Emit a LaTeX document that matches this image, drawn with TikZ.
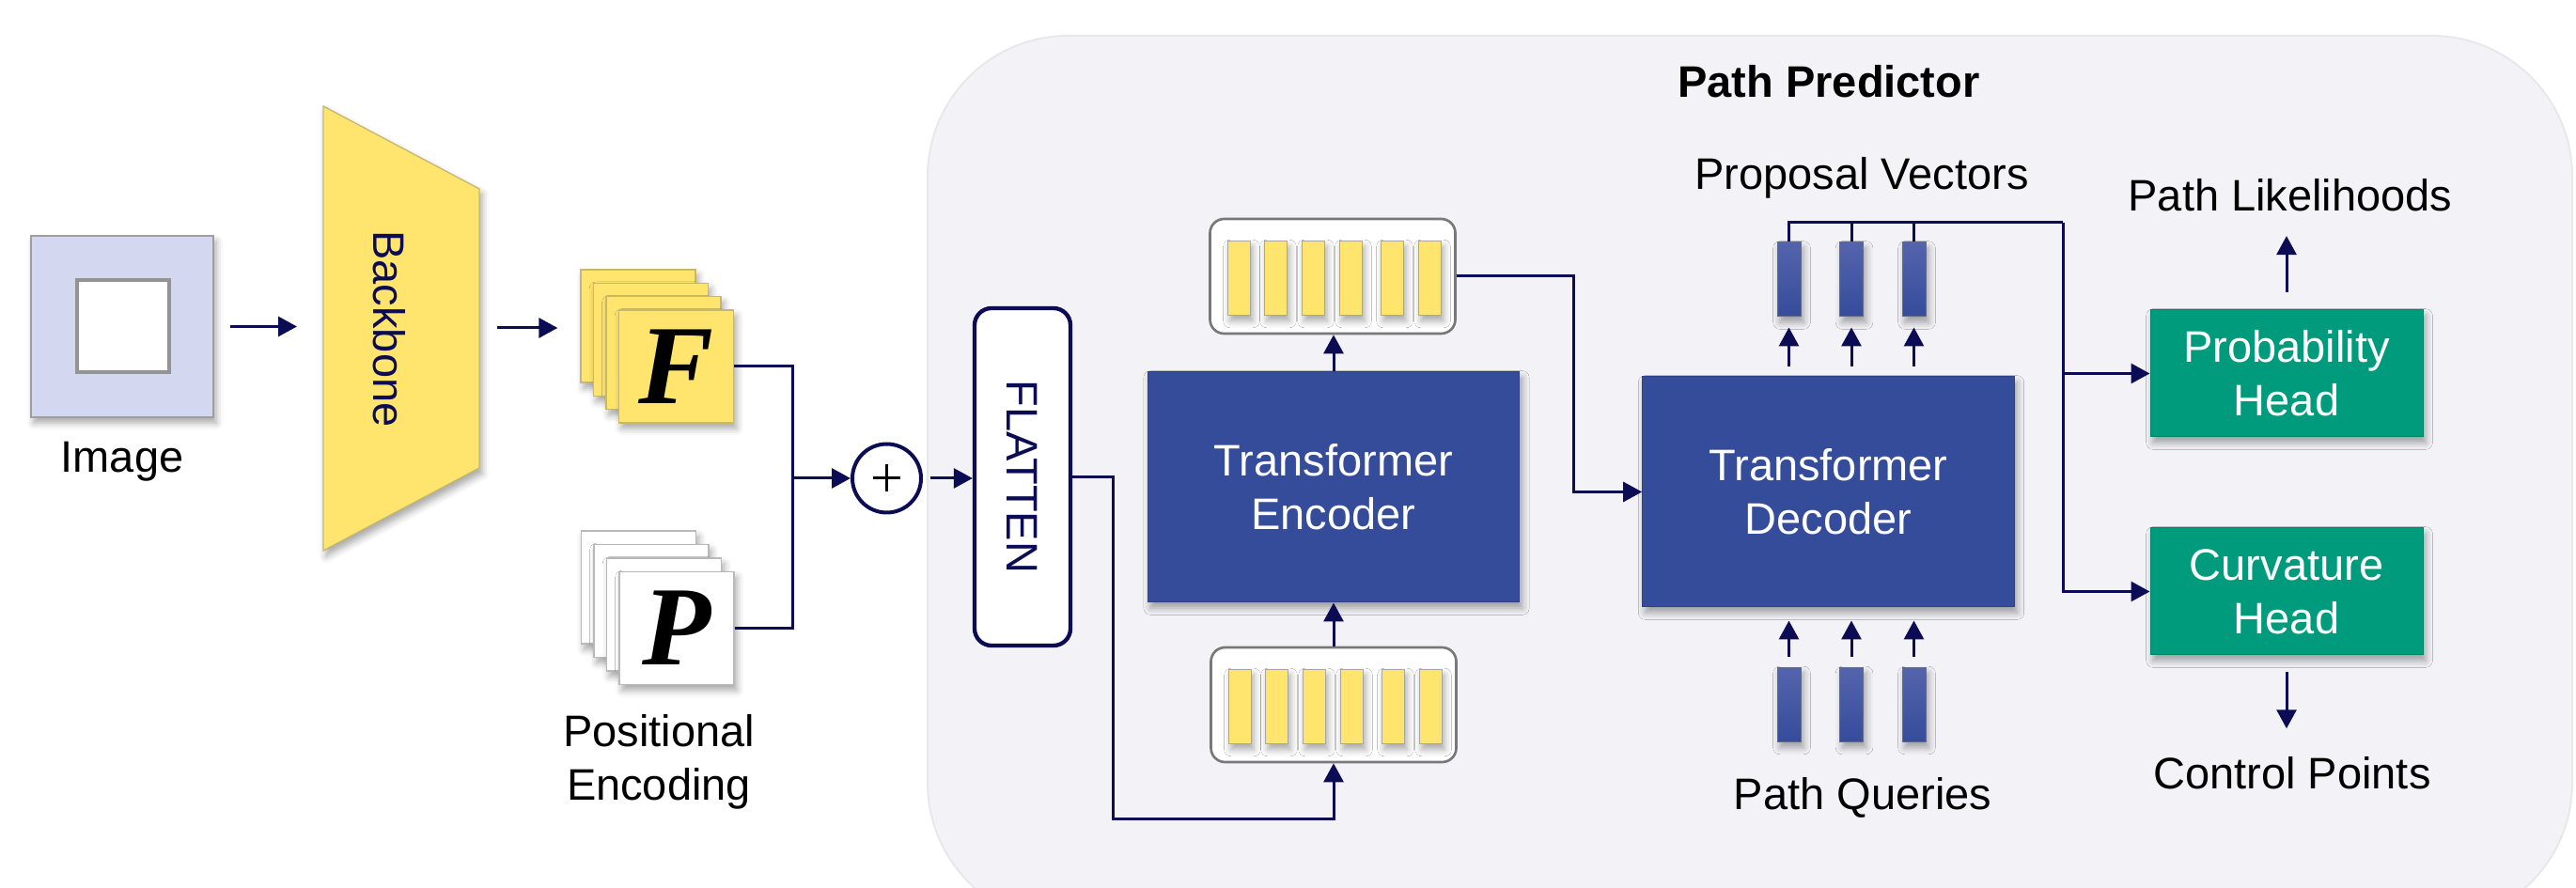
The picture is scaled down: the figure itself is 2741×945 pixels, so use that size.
\documentclass[tikz,border=0pt]{standalone}
\usepackage{fontspec}
\usepackage{graphicx}
\setmainfont{Liberation Sans}
\newfontfamily\letterfont{Liberation Serif}
\usetikzlibrary{arrows.meta,calc,shadows.blur}

\definecolor{navyline}{RGB}{12,12,84}
\definecolor{tfblue}{RGB}{53,76,155}
\definecolor{tfbluetop}{RGB}{84,100,172}
\definecolor{headgreen}{RGB}{0,155,124}
\definecolor{featyellow}{RGB}{255,229,110}
\definecolor{cardedge}{RGB}{200,184,110}
\definecolor{imgblue}{RGB}{211,216,240}
\definecolor{panelgray}{RGB}{242,242,247}
\definecolor{paneledge}{RGB}{232,232,236}
\definecolor{boxedge}{RGB}{120,120,120}

\tikzset{
    lbl/.style={font=\fontsize{14.1}{17.1}\selectfont, inner sep=0pt, align=center},
    arr/.style={draw=navyline, line width=0.9pt, -{Triangle[width=6.3pt,length=6pt]}},
    wire/.style={draw=navyline, line width=0.9pt},
    soft/.style={blur shadow={shadow xshift=0.9pt, shadow yshift=-1.8pt, shadow blur radius=2.2pt, shadow opacity=35}},
    tfbox/.style={rectangle, fill=tfblue, draw=tfblue!85!black, line width=0.3pt, text=white, lbl, soft, minimum width=118.7pt, minimum height=73.5pt},
    headbox/.style={rectangle, fill=headgreen, draw=headgreen!85!black, line width=0.3pt, text=white, lbl, soft, minimum width=87pt, minimum height=40.5pt},
    fcard/.style={rectangle, fill=featyellow, draw=cardedge, line width=0.4pt, soft, minimum width=36.6pt, minimum height=36pt, inner sep=0pt},
    pcard/.style={fcard, fill=white, draw=gray!55},
    tokbox/.style={rectangle, rounded corners=4.5pt, fill=white, draw=boxedge, line width=0.8pt, minimum width=78.3pt, minimum height=36.6pt},
    tok/.style={rectangle, fill=featyellow, draw=gray!70, line width=0.3pt, soft, minimum width=7.2pt, minimum height=23.7pt, inner sep=0pt},
    vec/.style={rectangle, top color=tfbluetop, bottom color=tfblue, draw=gray!60!tfblue, line width=0.3pt, soft, minimum width=7.5pt, minimum height=23.7pt, inner sep=0pt},
}

\begin{document}
\begin{tikzpicture}[x=0.3pt,y=0.3pt,yscale=-1]
    \useasboundingbox (0,0) rectangle (2741,945);

    %Shape: Rounded Rectangle [path predictor panel]
    \begin{scope}
        \clip (0,0) rectangle (2741,945);
        \filldraw[fill=panelgray, draw=paneledge, line width=0.6pt, rounded corners=45pt] (987,38) rectangle (2737,983);
    \end{scope}
    % Text Node
    \node[lbl, font=\fontsize{14.1}{17.1}\selectfont\bfseries, anchor=base] (ptitle) at (1946,104) {Path Predictor};

    %Shape: Rectangle [input image]
    \node[rectangle, fill=imgblue, draw=gray!75, line width=0.5pt, soft, minimum width=58.2pt, minimum height=57.9pt] (img) at (130,347.5) {};
    \node[rectangle, fill=white, draw=gray!85, line width=1pt, minimum size=29.4pt] (imgin) at (131,347) {};
    % Text Node
    \node[lbl, anchor=base] (imglbl) at (130,503) {Image};

    %Shape: Trapezoid [backbone]
    \filldraw[fill=featyellow, draw=cardedge, line width=0.4pt, soft] (344,113) -- (510,201) -- (510,498) -- (344,586) -- cycle;
    \coordinate (bbin) at (344,349);
    \coordinate (bbout) at (510,349);
    \node[lbl, text=navyline] (bb) at (414,350) {\rotatebox{-90}{Backbone}};

    %Shape: Stacked Cards [features F and encoding P]
    \foreach \i in {0,1,2}
        \node[fcard] (fcard\i) at ({679+13.5*\i},{347+14.3*\i}) {};
    \node[fcard, font=\letterfont\fontsize{36}{36}\selectfont\bfseries\itshape] (fcard3) at (719.5,390) {F};
    \foreach \i in {0,1,2}
        \node[pcard] (pcard\i) at ({679.5+13.5*\i},{625+14.5*\i}) {};
    \node[pcard, font=\letterfont\fontsize{36}{36}\selectfont\bfseries\itshape] (pcard3) at (720,668.5) {P};
    % Text Node
    \node[lbl, anchor=north] (poslbl) at (701,760) {Positional\\Encoding};

    %Shape: Circle [sum]
    \node[circle, draw=navyline, fill=white, line width=1.2pt, minimum size=21.9pt, inner sep=0pt] (plus) at (943.5,509) {};
    \draw[line width=0.9pt] ($(plus)+(-14.5,0)$) -- ($(plus)+(14.5,0)$) ($(plus)+(0,-14.5)$) -- ($(plus)+(0,14.5)$);

    %Shape: Rounded Rectangle [flatten]
    \node[rectangle, rounded corners=5.4pt, draw=navyline, fill=white, line width=1.3pt, minimum width=30.6pt, minimum height=107.7pt, lbl, text=navyline] (flat) at (1088,507.5) {\rotatebox{-90}{FLATTEN}};

    %Shape: Token Boxes
    \node[tokbox] (tokin) at (1419,750) {};
    \node[tokbox] (tokout) at (1418,294) {};
    \foreach \dx [count=\k] in {-100,-61,-21,19,63,103} {
        \node[tok] (in\k) at ($(tokin)+(\dx,2)$) {};
        \node[tok] (out\k) at ($(tokout)+(\dx,2)$) {};
    }

    %Shape: Rectangle [encoder and decoder]
    \node[tfbox] (enc) at (1419,518.5) {Transformer\\Encoder};
    \node[tfbox] (dec) at (1945.5,523.5) {Transformer\\Decoder};

    %Shape: Vector Bars
    \foreach \x [count=\k] in {1903.5,1970,2036.5} {
        \node[vec] (pv\k) at (\x,297.5) {};
        \node[vec] (qv\k) at (\x,750) {};
    }
    % Text Node
    \node[lbl, anchor=base] (pvlbl) at (1981,202) {Proposal Vectors};
    \node[lbl, anchor=base] (qvlbl) at (1982,862) {Path Queries};

    %Shape: Rectangle [heads]
    \node[headbox] (prob) at (2433,397.5) {Probability\\Head};
    \node[headbox] (curv) at (2433,629.5) {Curvature\\Head};
    % Text Node
    \node[lbl, anchor=base] (lik) at (2437,225) {Path Likelihoods};
    \node[lbl, anchor=base] (ctrl) at (2439,840) {Control Points};

    %Straight Lines
    \draw[arr, shorten <=5.1pt, shorten >=8.4pt] (img.east) -- (img.east -| bbin);
    \draw[arr, shorten <=5.7pt, shorten >=7.2pt] (bbout) -- (bbout -| fcard0.west);
    \coordinate (jn) at (843,509);
    \draw[wire] (fcard3.east) -| (jn);
    \draw[wire] (pcard3.east) -| (jn);
    \draw[arr] (jn) -- (plus.west);
    \draw[arr, shorten <=2.4pt] (plus.east) -- (plus.east -| flat.west);
    \coordinate (flbend) at (1184,872);
    \draw[arr] (flat.east) -| (flbend) -| (tokin.south);
    \draw[arr] (tokin.north) -- (tokin.north |- enc.south);
    \draw[arr] (enc.north) -- (enc.north |- tokout.south);
    \coordinate (tobend) at (1674,294);
    \draw[arr] (tokout.east) -- (tobend) |- (dec.west);
    \foreach \k in {1,2,3} {
        \draw[arr, shorten <=3pt, shorten >=3.3pt] (pv\k |- dec.north) -- (pv\k.south);
        \draw[arr, shorten <=3.3pt, shorten >=4.2pt] (qv\k.north) -- (qv\k |- dec.south);
    }
    \coordinate (pvtop) at (2195,237);
    \draw[wire] (pv1.north) |- (pvtop);
    \draw[wire] (pv2.north) -- (pv2.north |- pvtop);
    \draw[wire] (pv3.north) -- (pv3.north |- pvtop);
    \draw[arr] (pvtop) |- (prob.west);
    \draw[arr] (pvtop) |- (curv.west);
    \draw[arr, shorten <=5.4pt, shorten >=7.5pt] (prob.north) -- (prob.north |- lik.south);
    \draw[arr, shorten <=5.4pt, shorten >=9pt] (curv.south) -- (curv.south |- ctrl.north);
\end{tikzpicture}
\end{document}
